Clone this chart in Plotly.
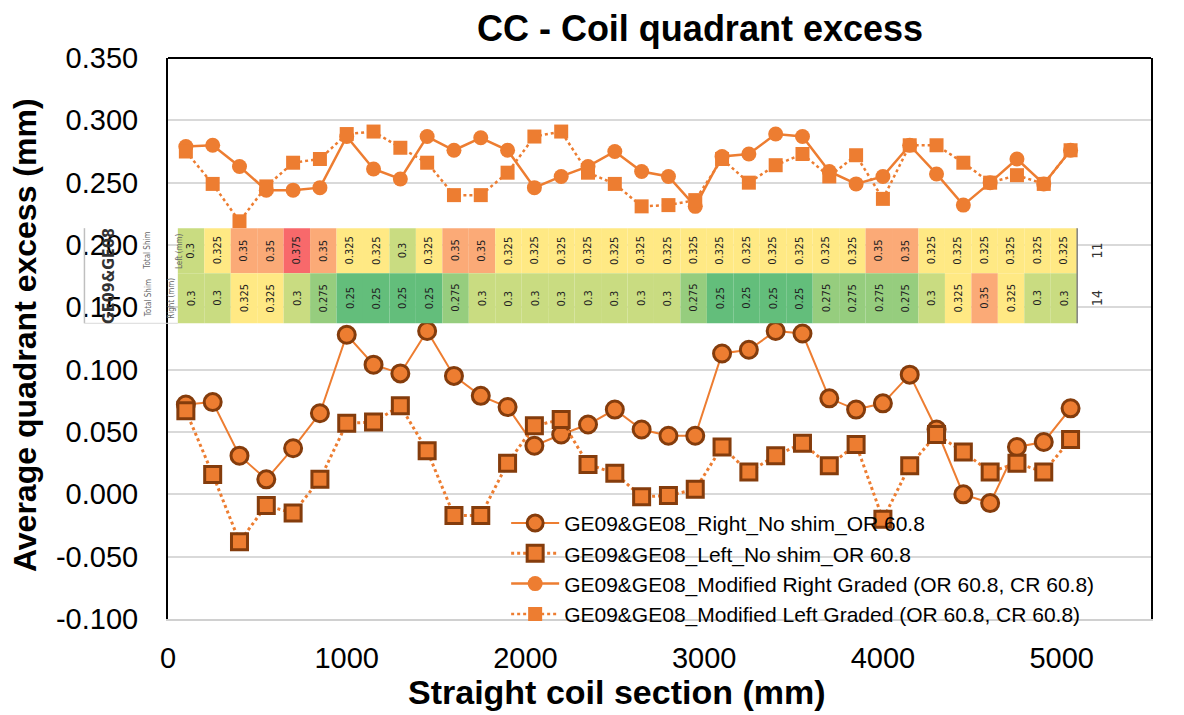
import plotly.graph_objects as go

# ---------------- data ----------------
X_MM = [100, 250, 400, 550, 700, 850, 1000, 1150, 1300, 1450, 1600, 1750, 1900,
        2050, 2200, 2350, 2500, 2650, 2800, 2950, 3100, 3250, 3400, 3550, 3700,
        3850, 4000, 4150, 4300, 4450, 4600, 4750, 4900, 5050]

RIGHT_NOSHIM = [0.072, 0.074, 0.031, 0.012, 0.037, 0.065, 0.128, 0.104, 0.097, 0.131,
                0.095, 0.079, 0.070, 0.039, 0.048, 0.056, 0.068, 0.052, 0.047, 0.047,
                0.113, 0.116, 0.131, 0.129, 0.077, 0.068, 0.073, 0.096, 0.052, 0.000,
                -0.007, 0.038, 0.042, 0.069]

LEFT_NOSHIM = [0.067, 0.016, -0.038, -0.009, -0.015, 0.012, 0.057, 0.058, 0.071, 0.035,
               -0.017, -0.017, 0.025, 0.055, 0.060, 0.024, 0.017, -0.002, -0.001, 0.004,
               0.038, 0.018, 0.031, 0.041, 0.023, 0.040, -0.020, 0.023, 0.048, 0.034,
               0.018, 0.025, 0.018, 0.044]

MOD_RIGHT = [0.279, 0.280, 0.263, 0.244, 0.244, 0.246, 0.287, 0.261, 0.253, 0.287,
             0.276, 0.286, 0.276, 0.246, 0.255, 0.263, 0.275, 0.259, 0.255, 0.231,
             0.271, 0.273, 0.289, 0.287, 0.259, 0.249, 0.255, 0.280, 0.257, 0.232,
             0.250, 0.269, 0.249, 0.276]

MOD_LEFT = [0.275, 0.249, 0.219, 0.247, 0.266, 0.269, 0.289, 0.291, 0.278, 0.266,
            0.240, 0.240, 0.258, 0.287, 0.291, 0.258, 0.249, 0.231, 0.232, 0.236,
            0.269, 0.250, 0.264, 0.273, 0.255, 0.272, 0.237, 0.280, 0.280, 0.266,
            0.250, 0.256, 0.249, 0.276]

SERIES_NAMES = ["GE09&GE08_Right_No shim_OR 60.8",
                "GE09&GE08_Left_No shim_OR 60.8",
                "GE09&GE08_Modified Right Graded (OR 60.8, CR 60.8)",
                "GE09&GE08_Modified Left Graded (OR 60.8, CR 60.8)"]

# shim table (mm)
LEFT_SHIM = [0.3, 0.325, 0.35, 0.35, 0.375, 0.35, 0.325, 0.325, 0.3, 0.325,
             0.35, 0.35, 0.325, 0.325, 0.325, 0.325, 0.325, 0.325, 0.325, 0.325,
             0.325, 0.325, 0.325, 0.325, 0.325, 0.325, 0.35, 0.35, 0.325, 0.325,
             0.325, 0.325, 0.325, 0.325]
RIGHT_SHIM = [0.3, 0.3, 0.325, 0.325, 0.3, 0.275, 0.25, 0.25, 0.25, 0.25,
              0.275, 0.3, 0.3, 0.3, 0.3, 0.3, 0.3, 0.3, 0.3, 0.275,
              0.25, 0.25, 0.25, 0.25, 0.275, 0.275, 0.275, 0.275, 0.3, 0.325,
              0.35, 0.325, 0.3, 0.3]
ROW_TOTALS = ["11", "14"]
TABLE_TITLE = "GE09&GE08"

Y_TICKS = [-0.1, -0.05, 0.0, 0.05, 0.1, 0.15, 0.2, 0.25, 0.3, 0.35]
X_TICKS = [0, 1000, 2000, 3000, 4000, 5000]

TITLE = "CC - Coil quadrant excess"
X_TITLE = "Straight coil section (mm)"
Y_TITLE = "Average quadrant excess (mm)"

# ---------------- styling ----------------
FONT = "Liberation Sans, Arial, sans-serif"
NARROW = "Liberation Sans Narrow, DejaVu Sans Condensed, Liberation Sans, sans-serif"
ORANGE = "#ED7D31"
BROWN = "#843C0C"
SHIM_COLORS = {0.25: "#63BE7B", 0.275: "#96CD7E", 0.3: "#C9DC81",
               0.325: "#FFE984", 0.35: "#FBAA77", 0.375: "#F8696B"}

# table geometry (data units)
TABLE_X0 = 55
CELL_W = 148
ROW_TOP = (0.1774, 0.2135)
ROW_BOT = (0.1372, 0.1774)

fig = go.Figure()

fig.add_trace(go.Scatter(
    x=X_MM, y=RIGHT_NOSHIM, name=SERIES_NAMES[0], mode="lines+markers",
    line=dict(color=ORANGE, width=2, dash="solid"),
    marker=dict(symbol="circle", size=17, color=ORANGE, line=dict(color=BROWN, width=3))))
fig.add_trace(go.Scatter(
    x=X_MM, y=LEFT_NOSHIM, name=SERIES_NAMES[1], mode="lines+markers",
    line=dict(color=ORANGE, width=3, dash="dot"),
    marker=dict(symbol="square", size=16, color=ORANGE, line=dict(color=BROWN, width=3))))
fig.add_trace(go.Scatter(
    x=X_MM, y=MOD_RIGHT, name=SERIES_NAMES[2], mode="lines+markers",
    line=dict(color=ORANGE, width=2.5, dash="solid"),
    marker=dict(symbol="circle", size=15, color=ORANGE)))
fig.add_trace(go.Scatter(
    x=X_MM, y=MOD_LEFT, name=SERIES_NAMES[3], mode="lines+markers",
    line=dict(color=ORANGE, width=2.5, dash="dot"),
    marker=dict(symbol="square", size=14, color=ORANGE)))

shapes = []
annotations = []

# table cells
for row_vals, (y0, y1) in ((LEFT_SHIM, ROW_TOP), (RIGHT_SHIM, ROW_BOT)):
    for i, v in enumerate(row_vals):
        x0 = TABLE_X0 + i * CELL_W
        shapes.append(dict(type="rect", xref="x", yref="y", x0=x0, x1=x0 + CELL_W,
                           y0=y0, y1=y1, fillcolor=SHIM_COLORS[v],
                           line=dict(width=0), layer="above"))
        annotations.append(dict(xref="x", yref="y", x=x0 + CELL_W / 2, y=(y0 + y1) / 2,
                                text=str(v), showarrow=False, textangle=-90,
                                font=dict(family=NARROW, size=11, color="#222222")))

table_x1 = TABLE_X0 + len(LEFT_SHIM) * CELL_W
# right border of table
shapes.append(dict(type="line", xref="x", yref="y", x0=table_x1, x1=table_x1,
                   y0=ROW_BOT[0], y1=ROW_TOP[1], line=dict(color="#808080", width=1.5),
                   layer="above"))
# header frame (left of plot)
shapes.append(dict(type="line", xref="paper", yref="y", x0=-0.085, x1=-0.085,
                   y0=ROW_BOT[0], y1=ROW_TOP[1], line=dict(color="#BFBFBF", width=1.5),
                   layer="above"))
shapes.append(dict(type="line", xref="paper", yref="y", x0=-0.085, x1=0.01,
                   y0=ROW_BOT[0], y1=ROW_BOT[0], line=dict(color="#D9D9D9", width=1),
                   layer="above"))
# top black border of the plot area
shapes.append(dict(type="line", xref="paper", yref="paper", x0=0, x1=1, y0=1, y1=1,
                   line=dict(color="black", width=2), layer="above"))

# header texts
annotations.append(dict(xref="paper", yref="y", x=-0.0725, y=(ROW_BOT[0] + ROW_TOP[1]) / 2,
                        text="<b>" + TABLE_TITLE + "</b>", showarrow=False, textangle=-90,
                        font=dict(family=NARROW, size=16, color="#333333")))
for (y0, y1), lab, xl in ((ROW_TOP, "Left (mm)", 0.005), (ROW_BOT, "Right (mm)", -0.003)):
    annotations.append(dict(xref="paper", yref="y", x=-0.027, y=(y0 + y1) / 2,
                            text="Total Shim", showarrow=False, textangle=-90,
                            font=dict(family=NARROW, size=8, color="#666666")))
    annotations.append(dict(xref="paper", yref="y", x=xl, y=(y0 + y1) / 2,
                            text=lab, showarrow=False, textangle=-90,
                            font=dict(family=NARROW, size=8, color="#666666")))
for (y0, y1), lab in zip((ROW_TOP, ROW_BOT), ROW_TOTALS):
    annotations.append(dict(xref="x", yref="y", x=table_x1 + 110, y=(y0 + y1) / 2,
                            text=lab, showarrow=False, textangle=-90,
                            font=dict(family=NARROW, size=14, color="#333333")))

# axis titles
annotations.append(dict(xref="paper", yref="paper", x=0.457, y=-0.13, yanchor="middle",
                        text="<b>" + X_TITLE + "</b>", showarrow=False,
                        font=dict(family=FONT, size=34, color="black")))
annotations.append(dict(xref="paper", yref="paper", x=-0.1455, y=0.506, xanchor="center",
                        text="<b>" + Y_TITLE + "</b>", showarrow=False, textangle=-90,
                        font=dict(family=FONT, size=32, color="black")))

# The page body has an 8px margin, so the figure is laid out 8px in from the window edges.
fig.update_layout(
    width=1176, height=707, autosize=False,
    margin=dict(l=160, r=33, t=50, b=96),
    paper_bgcolor="white", plot_bgcolor="white",
    font=dict(family=FONT, color="black"),
    title=dict(text="<b>" + TITLE + "</b>", x=0.5884, xanchor="center",
               y=0.9717, yanchor="middle", yref="container",
               font=dict(family=FONT, size=36, color="black")),
    xaxis=dict(range=[0, 5500], tickvals=X_TICKS, ticktext=[str(v) for v in X_TICKS],
               showgrid=False, zeroline=False, showline=True, linecolor="#D0D0D0",
               linewidth=2, ticks="", ticklabelstandoff=12,
               tickfont=dict(family=FONT, size=29, color="black")),
    yaxis=dict(range=[-0.1, 0.35], tickvals=Y_TICKS, ticktext=[f"{v:.3f}" for v in Y_TICKS],
               showgrid=True, gridcolor="#D9D9D9", gridwidth=1.5, zeroline=False,
               showline=True, linecolor="black", linewidth=2, mirror=True,
               ticks="", ticklabelstandoff=22,
               tickfont=dict(family=FONT, size=29, color="black")),
    legend=dict(x=0.344, y=0.207, xanchor="left", yanchor="top",
                bgcolor="rgba(0,0,0,0)", borderwidth=0, itemwidth=48,
                tracegroupgap=0, font=dict(family=FONT, size=21, color="black")),
    shapes=shapes,
    annotations=annotations,
)

fig.write_html("out.html")
